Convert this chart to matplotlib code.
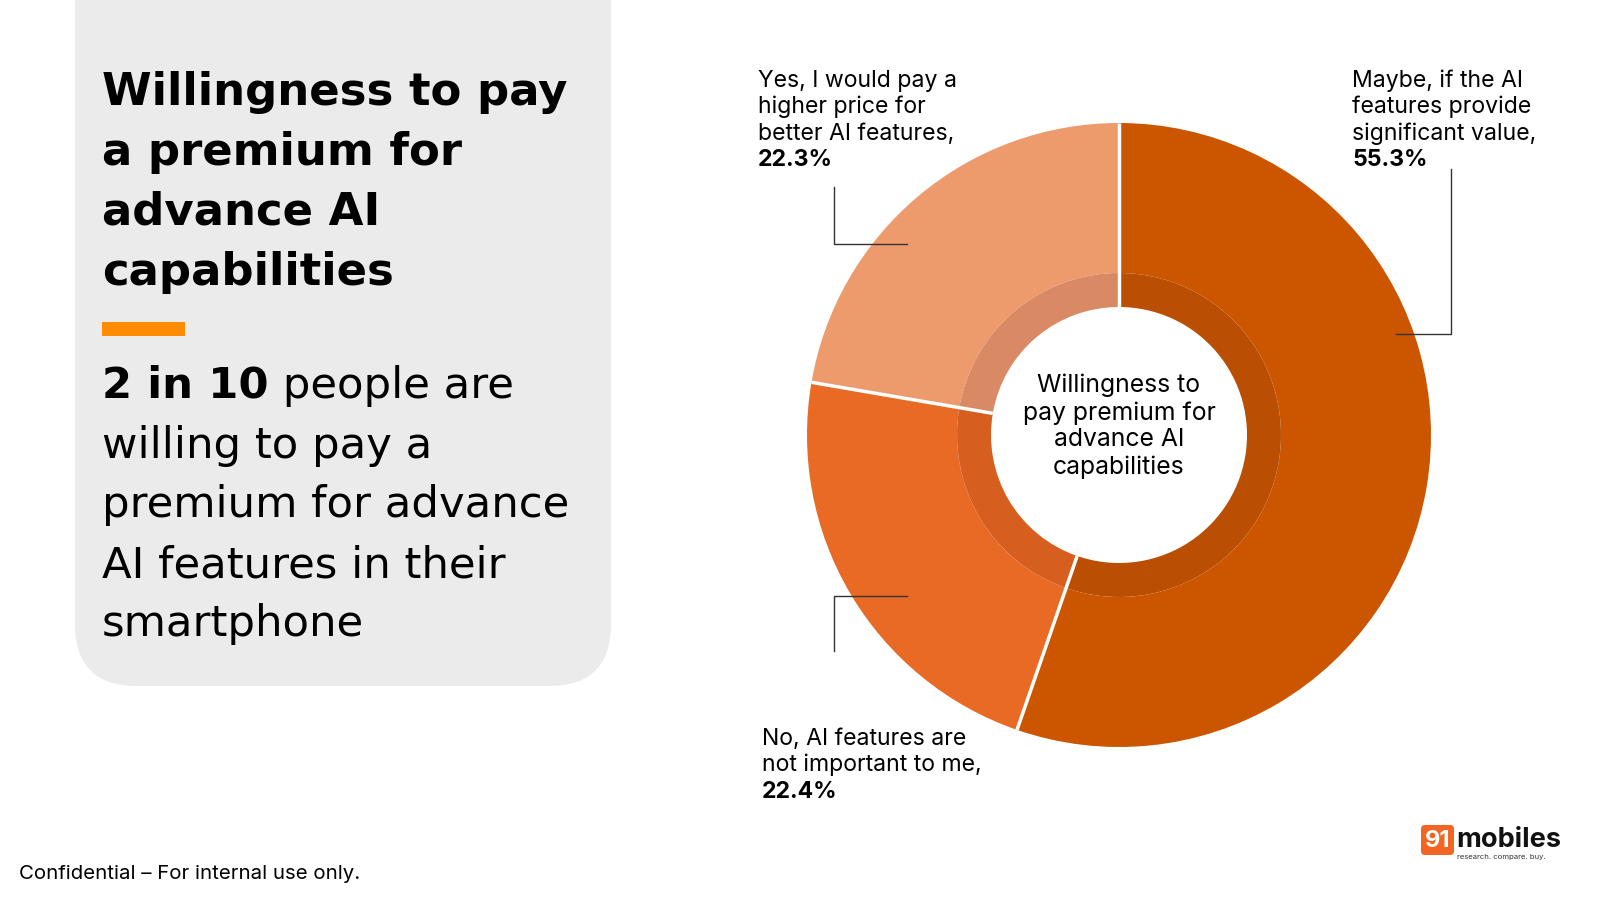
import matplotlib
matplotlib.use("Agg")
import matplotlib.pyplot as plt
import numpy as np
from matplotlib.patches import FancyBboxPatch, Rectangle

# ---- data ----
categories = ["Maybe, if the AI\nfeatures provide\nsignificant value,",
              "No, AI features are\nnot important to me,",
              "Yes, I would pay a\nhigher price for\nbetter AI features,"]
values = [55.3, 22.4, 22.3]
colors = ["#CC5500", "#E86A24", "#ED9B6D"]
inner_colors = ["#BA4E02", "#D65F1F", "#D98A65"]
title_lines = ["Willingness to pay", "a premium for", "advance AI", "capabilities"]
sub_bold = "2 in 10"
sub_lines = [" people are", "willing to pay a", "premium for advance", "AI features in their", "smartphone"]
center_lines = ["Willingness to", "pay premium for", "advance AI", "capabilities"]
footer = "Confidential \u2013 For internal use only."

FONT = "Inter"
PFONT = "DejaVu Sans"
W, H = 1600, 900
fig = plt.figure(figsize=(16, 9), dpi=100)
fig.patch.set_facecolor("white")
ax = fig.add_axes([0, 0, 1, 1])
ax.set_xlim(0, W)
ax.set_ylim(H, 0)
ax.axis("off")
ax.set_zorder(2)
fig.canvas.draw()
r = fig.canvas.get_renderer()


def fit_size(text, target, weight, family, start=30):
    t = ax.text(0, 0, text, fontsize=start, fontweight=weight, family=family)
    w = t.get_window_extent(renderer=r).width
    t.remove()
    return start * target / w


# grey panel
panel = FancyBboxPatch((75, -100), 536, 786, boxstyle="round,pad=0,rounding_size=62",
                       facecolor="#EBEBEB", edgecolor="none")
ax.add_patch(panel)

# title
ts = fit_size(title_lines[0], 466, "bold", PFONT)
ty = [92, 152, 212, 272]
for line, y in zip(title_lines, ty):
    ax.text(102, y, line, fontsize=ts, fontweight="bold", family=PFONT, va="center", ha="left", color="black")

# orange bar
ax.add_patch(Rectangle((102, 322), 83, 14, facecolor="#FF8C00", edgecolor="none"))

# subtitle
ss = fit_size(sub_lines[2], 466, "normal", PFONT)
sy = [386, 446, 505, 565, 624]
tb = ax.text(102, sy[0], sub_bold, fontsize=ss, fontweight="bold", family=PFONT, va="center", ha="left", color="black")
bb = tb.get_window_extent(renderer=r)
ax.text(102 + bb.width, sy[0], sub_lines[0], fontsize=ss, family=PFONT, va="center", ha="left", color="black")
for line, y in zip(sub_lines[1:], sy[1:]):
    ax.text(102, y, line, fontsize=ss, family=PFONT, va="center", ha="left", color="black")

# footer
ax.text(19, 874, footer, fontsize=14.7, family=FONT, va="center", ha="left", color="black")

# leader lines
lc = "#333333"
ax.plot([834, 834, 907], [187, 244, 244], color=lc, lw=1)
ax.plot([834, 834, 907], [651, 596, 596], color=lc, lw=1)
ax.plot([1396, 1451, 1451], [334, 334, 169], color=lc, lw=1)

# labels
def label(x, ys, text, pct):
    lines = text.split("\n")
    for line, y in zip(lines, ys):
        ax.text(x, y, line, fontsize=16.6, family=FONT, va="center", ha="left", color="black")
    ax.text(x, ys[len(lines)], pct, fontsize=16.6, fontweight="bold", family=FONT, va="center", ha="left", color="black")

label(1352, [81, 107, 134, 160], categories[0], f"{values[0]}%")
label(762, [739, 765, 792], categories[1], f"{values[1]}%")
label(758, [81, 107, 134, 160], categories[2], f"{values[2]}%")

# logo
ax.add_patch(FancyBboxPatch((1421, 825), 33, 30, boxstyle="round,pad=0,rounding_size=4",
                            facecolor="#F26522", edgecolor="none"))
ax.text(1437.5, 841, "91", fontsize=17, fontweight="bold", family=FONT, color="white", va="center", ha="center")
ax.text(1456, 840, "mobiles", fontsize=19.5, fontweight="bold", family=FONT, color="#111111", va="center", ha="left")
ax.text(1457, 857, "research. compare. buy.", fontsize=5.5, family=FONT, color="#333333", va="center", ha="left")

# donut
cx, cy, R = 1119, 435, 312
r_mid, r_in = 162, 128
pax = fig.add_axes([(cx - R) / W, (H - cy - R) / H, 2 * R / W, 2 * R / H])
pax.set_zorder(1)
w1, _ = pax.pie(values, colors=colors, startangle=90, counterclock=False, radius=1.0,
                wedgeprops=dict(width=1 - r_mid / R, edgecolor="none", linewidth=0))
w2, _ = pax.pie(values, colors=inner_colors, startangle=90, counterclock=False, radius=r_mid / R,
                wedgeprops=dict(width=(r_mid - r_in) / R, edgecolor="none", linewidth=0))
for w in list(w1) + list(w2):
    w.set_clip_on(False)
# white separators between slices
bounds = 90 - np.cumsum([0] + values[:-1]) / 100 * 360
for a in bounds:
    t = np.deg2rad(a)
    pax.plot([r_in / R * np.cos(t), 1.0 * np.cos(t)], [r_in / R * np.sin(t), 1.0 * np.sin(t)],
             color="white", lw=2.5, solid_capstyle="butt", clip_on=False)
pax.set_xlim(-1.0, 1.0)
pax.set_ylim(-1.0, 1.0)
pax.set_aspect("equal")
pax.axis("off")

cyl = [385, 413, 440, 467]
for line, y in zip(center_lines, cyl):
    ax.text(cx, y, line, fontsize=17.8, family=FONT, va="center", ha="center", color="black", zorder=10)

fig.savefig("out.png", dpi=100)
